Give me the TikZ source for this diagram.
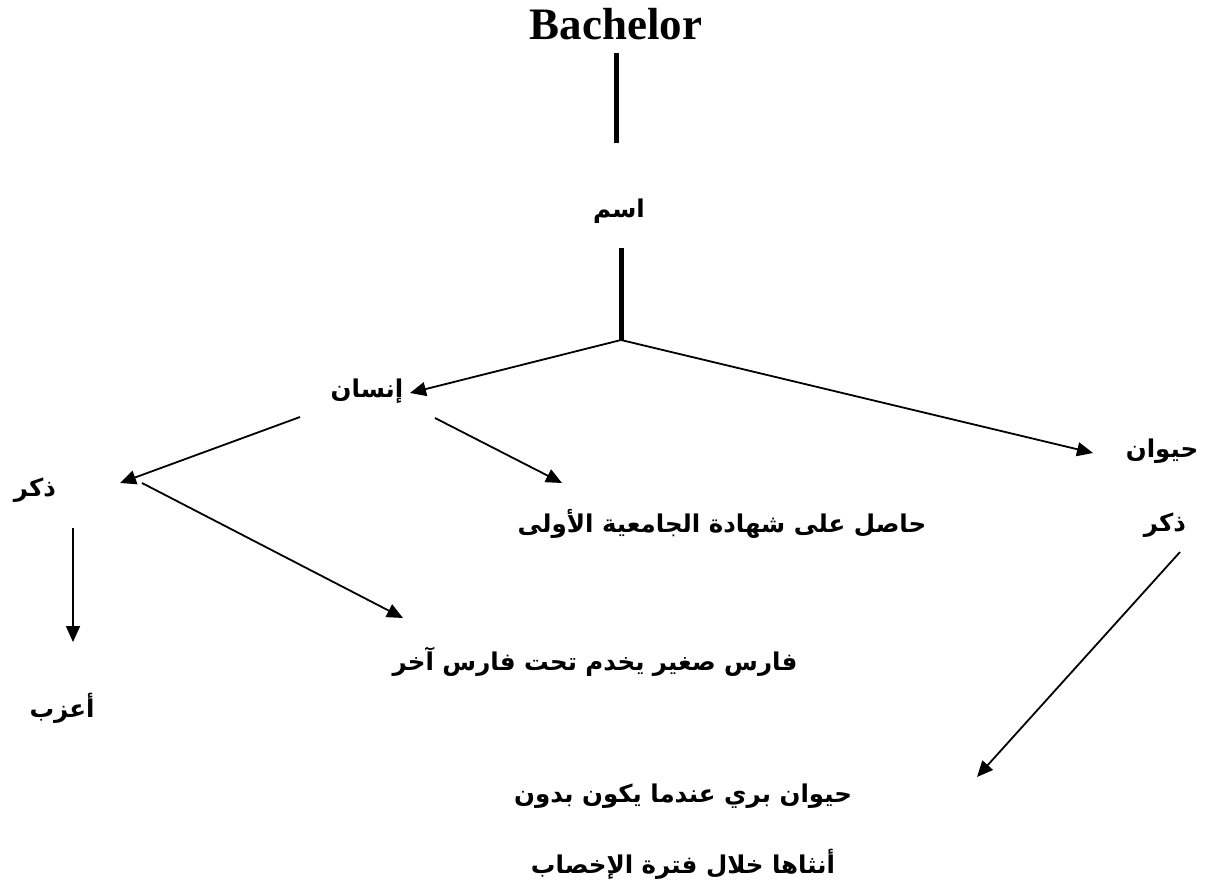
\documentclass[tikz,border=0pt]{standalone}
\usepackage{fontspec}
\setmainfont{Liberation Serif}
\newfontfamily\arabicfont[Script=Arabic]{DejaVu Sans}
\TeXXeTstate=1
\usetikzlibrary{arrows.meta}
\newcommand{\artxt}[1]{\beginR #1\endR}
\begin{document}
\begin{tikzpicture}[x=1pt,y=-1pt,
  ar/.style={font=\arabicfont\bfseries\fontsize{24.5}{28}\selectfont, inner sep=0pt, anchor=center},
  conn/.style={line width=1.8pt, -{Triangle[length=16pt,width=14pt]}},
  stem/.style={line width=5pt}]
\useasboundingbox (0,0) rectangle (1211,890);
\fill[white] (0,0) rectangle (1211,890);
% nodes
\node[font=\bfseries\fontsize{45}{50}\selectfont, inner sep=0pt, anchor=base] (bach) at (616,40) {Bachelor};
\node[ar] (ism) at (619,211) {\artxt{اسم}};
\node[ar] (insan) at (367,391) {\artxt{إنسان}};
\node[ar] (hayawan) at (1162,451) {\artxt{حيوان}};
\node[ar] (dhakarR) at (1165,525) {\artxt{ذكر}};
\node[ar] (dhakarL) at (35,490) {\artxt{ذكر}};
\node[ar] (hasil) at (722,524) {\artxt{حاصل على شهادة الجامعية الأولى}};
\node[ar] (faris) at (595,662) {\artxt{فارس صغير يخدم تحت فارس آخر}};
\node[ar] (aazab) at (62,708) {\artxt{أعزب}};
\node[ar] (bari1) at (683,796) {\artxt{حيوان بري عندما يكون بدون}};
\node[ar] (bari2) at (683,864) {\artxt{أنثاها خلال فترة الإخصاب}};
% coordinates
\coordinate (l1a) at (616,53);
\coordinate (l1b) at (616,143);
\coordinate (l2a) at (621,248);
\coordinate (j) at (621,340);
\coordinate (tInsan) at (410,393);
\coordinate (tHay) at (1093,453);
\coordinate (sInsL) at (300,417);
\coordinate (tDhL) at (120,483);
\coordinate (sInsR) at (435,418);
\coordinate (tHasil) at (562,483);
\coordinate (sDhL) at (142,483);
\coordinate (tFaris) at (403,618);
\coordinate (sDown) at (73,528);
\coordinate (tAazab) at (73,642);
\coordinate (sDhR) at (1180,552);
\coordinate (tBari) at (977,777);
% connectors
\draw[stem] (l1a) -- (l1b);
\draw[stem] (l2a) -- (j);
\draw[conn] (j) -- (tInsan);
\draw[conn] (j) -- (tHay);
\draw[conn] (sInsL) -- (tDhL);
\draw[conn] (sInsR) -- (tHasil);
\draw[conn] (sDhL) -- (tFaris);
\draw[conn] (sDown) -- (tAazab);
\draw[conn] (sDhR) -- (tBari);
\end{tikzpicture}
\end{document}
